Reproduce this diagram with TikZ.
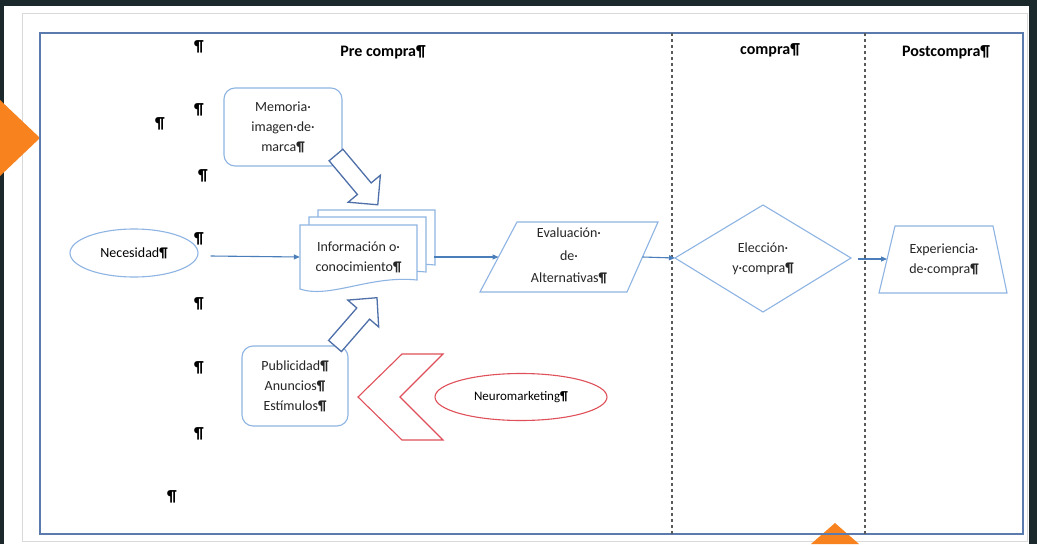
\documentclass[tikz,border=0pt]{standalone}
\usepackage{fontspec}
\setmainfont{Carlito}
\usetikzlibrary{arrows.meta,shapes.geometric,calc}
\definecolor{bgdark}{HTML}{1B292C}
\definecolor{orng}{HTML}{F7821E}
\definecolor{frameblue}{HTML}{5B7BAE}
\definecolor{shapeblue}{HTML}{8EB4E3}
\definecolor{linkblue}{HTML}{4A7EBB}
\definecolor{blockblue}{HTML}{4F6FA8}
\definecolor{redline}{HTML}{E0505A}
\definecolor{dotgray}{HTML}{5A5A5A}
\newcommand{\pmark}{{\bfseries ¶}}
\begin{document}
\begin{tikzpicture}[x=1pt,y=-1pt,
  body/.style={font=\fontsize{14}{20}\selectfont, align=center, inner sep=0pt, text=black!85},
  head/.style={font=\fontsize{16}{18}\selectfont\bfseries, inner sep=0pt},
  pil/.style={font=\fontsize{16}{18}\selectfont\bfseries, inner sep=0pt},
  shp/.style={draw=shapeblue, line width=1.1pt},
  link/.style={draw=linkblue, line width=1.1pt, -{Triangle[length=6pt,width=5pt]}},
  blockarrow/.style={draw=blockblue, line width=1.3pt, fill=white, line join=miter},
  dotline/.style={draw=dotgray, line width=1.3pt, dash pattern=on 2.5pt off 3.5pt},
  docpic/.pic={\draw[shp, fill=white] (0,0) -- (117,0) -- (117,55) .. controls (70,50) and (30,74) .. (0,64) -- cycle;}
]
\useasboundingbox (0,0) rectangle (1037,544);
% background
\fill[bgdark] (0,0) rectangle (1037,544);
\fill[white] (4,6) rectangle (1029,544);
\draw[gray!30, line width=0.6pt] (22,13) rectangle (1027,541);
\fill[orng] (0,100) -- (40,138) -- (0,176) -- cycle;
\fill[orng] (811,544) -- (835,523) -- (859,544) -- cycle;
% frame and separators
\draw[frameblue, line width=1.5pt] (40,33) rectangle (1023,534);
\draw[dotline] (672,33) -- (672,534);
\draw[dotline] (865,33) -- (865,534);
% headers
\node[head] (hpre) at (383,52) {Pre compra¶};
\node[head] (hcom) at (770,50) {compra¶};
\node[head] (hpost) at (946,52) {Postcompra¶};
% pilcrows
\node[pil] (p1) at (199,47) {¶};
\node[pil] (p2) at (199,110) {¶};
\node[pil] (p3) at (160,124) {¶};
\node[pil] (p4) at (203,176) {¶};
\node[pil] (p5) at (199,239) {¶};
\node[pil] (p6) at (199,304) {¶};
\node[pil] (p7) at (199,368) {¶};
\node[pil] (p8) at (199,434) {¶};
\node[pil] (p9) at (172,497) {¶};
% shapes
\node[shp, ellipse, minimum width=128pt, minimum height=48pt, inner sep=0pt, font=\fontsize{14}{16}\selectfont] (nec) at (134,253) {Necesidad\pmark};
\node[shp, rounded corners=11pt, minimum width=118pt, minimum height=78pt, body] (mem) at (283,127) {Memoria·\\imagen·de·\\marca\pmark};
\pic at (318,210) {docpic};
\pic at (309,217) {docpic};
\pic at (300,225) {docpic};
\node[body, minimum width=117pt, minimum height=65pt] (info) at (358.5,257) {Información o·\\conocimiento\pmark};
\coordinate (stackE) at ($(info.east)+(17,0)$);
\draw[shp] (517,222) -- (658,222) -- (627,292) -- (480,292) -- cycle;
\node[body, font=\fontsize{14}{22.5}\selectfont] (eval) at (569,256) {Evaluación·\\de·\\Alternativas\pmark};
\coordinate (evalW) at (498.5,257);
\coordinate (evalE) at (642.5,257);
\draw[shp] (763,205) -- (851,258) -- (763,312) -- (675,258) -- cycle;
\coordinate (diaW) at (675,258);
\coordinate (diaE) at (851,259);
\node[body] (elec) at (763,259) {Elección·\\y·compra\pmark};
\draw[shp] (895,226) -- (993,226) -- (1007,293) -- (879,293) -- cycle;
\coordinate (expW) at (887,259);
\node[body] (exp) at (944,260) {Experiencia·\\de·compra\pmark};
\node[shp, rounded corners=11pt, minimum width=106pt, minimum height=80pt, body] (pub) at (295,386) {Publicidad\pmark\\Anuncios\pmark\\Estímulos\pmark};
\draw[draw=redline, line width=1.1pt, line join=miter] (402,354) -- (443,354) -- (400,397) -- (443,440) -- (402,440) -- (358,397) -- cycle;
\node[ellipse, draw=redline, line width=1.1pt, minimum width=172pt, minimum height=47pt, inner sep=0pt, font=\fontsize{13}{15}\selectfont] (neuro) at (521,397) {Neuromarketing\pmark};
% block arrows
\begin{scope}[shift={(336,155)}, rotate=-50]
  \draw[blockarrow] (0,-9) -- (44,-9) -- (44,-21) -- (65,0) -- (44,21) -- (44,9) -- (0,9) -- cycle;
\end{scope}
\begin{scope}[shift={(335,346)}, rotate=49]
  \draw[blockarrow] (0,-8.5) -- (43,-8.5) -- (43,-20.5) -- (64,0) -- (43,20.5) -- (43,8.5) -- (0,8.5) -- cycle;
\end{scope}
% connectors
\draw[link] (nec.east) ++(12,3) -- (info.west);
\draw[link] (stackE) -- (evalW);
\draw[link] (evalE) -- (diaW);
\draw[link] (diaE) ++(7,0) -- (expW);
\end{tikzpicture}
\end{document}
